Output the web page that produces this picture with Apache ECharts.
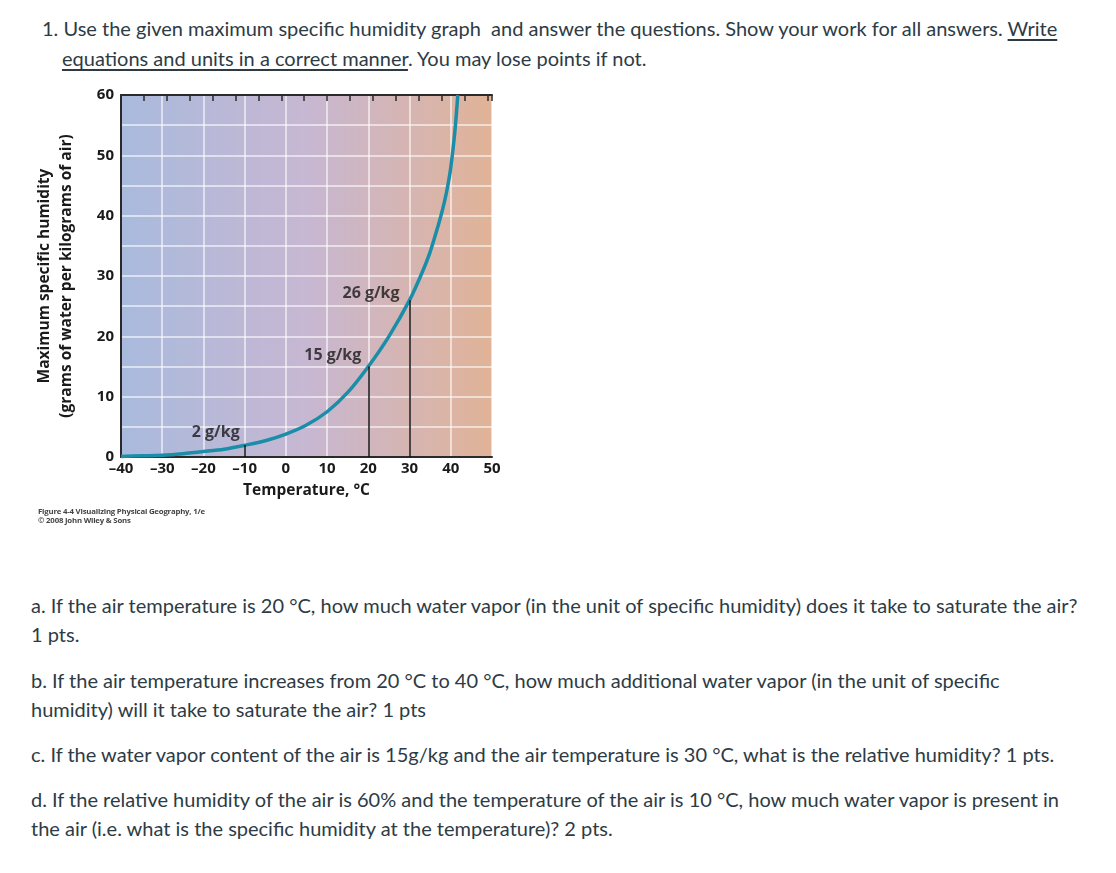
<!DOCTYPE html>
<html>
<head>
<meta charset="utf-8">
<script src="https://cdn.jsdelivr.net/npm/echarts@6/dist/echarts.min.js"></script>
<style>
  html, body { margin:0; padding:0; background:#fff; width:1116px; height:873px; overflow:hidden; }
  body { font-family: Lato, "Open Sans", sans-serif; color:#2d3b45; font-size:20px; }
  .t { position:absolute; white-space:nowrap; line-height:29px; }
  u { text-decoration: underline; text-underline-offset: 3px; }
  #chart { position:absolute; left:0; top:0; width:560px; height:560px; }
  .cap { position:absolute; left:38px; font-family:"Open Sans", sans-serif; font-size:7.8px; font-weight:700; color:#444; line-height:8.5px; white-space:nowrap; letter-spacing:-0.2px; filter: blur(0.35px); }
</style>
</head>
<body>
<div class="t" style="left:42px; top:14px;">1. Use the given maximum specific humidity graph&nbsp; and answer the questions. Show your work for all answers. <u>Write</u></div>
<div class="t" style="left:62px; top:44px;"><u>equations and units in a correct manner</u>. You may lose points if not.</div>
<div id="chart"></div>
<div class="cap" style="top:507px;">Figure 4-4 Visualizing Physical Geography, 1/e<br>© 2008 John Wiley &amp; Sons</div>
<div class="t" style="left:31px; top:591px;">a. If the air temperature is 20 °C, how much water vapor (in the unit of specific humidity) does it take to saturate the air?</div>
<div class="t" style="left:31px; top:620px;">1 pts.</div>
<div class="t" style="left:31px; top:666px;">b. If the air temperature increases from 20 °C to 40 °C, how much additional water vapor (in the unit of specific</div>
<div class="t" style="left:31px; top:695px;">humidity) will it take to saturate the air? 1 pts</div>
<div class="t" style="left:31px; top:740px;">c. If the water vapor content of the air is 15g/kg and the air temperature is 30 °C, what is the relative humidity? 1 pts.</div>
<div class="t" style="left:31px; top:785px;">d. If the relative humidity of the air is 60% and the temperature of the air is 10 °C, how much water vapor is present in</div>
<div class="t" style="left:31px; top:814px;">the air (i.e. what is the specific humidity at the temperature)? 2 pts.</div>
<script>
// ---- data ----
const temps = [-40,-35,-30,-25,-20,-15,-10,-5,0,5,10,15,20,25,30,33,35,37,38,39,40,41,41.7];
const humidity = [0.1,0.2,0.3,0.55,0.9,1.3,1.95,2.7,3.8,5.3,7.5,10.7,15,20,26,30.5,34,38.5,41,44,48,54,60];
const markTemps = [-10, 20, 30];
const markValues = [2, 15, 26];
const markLabels = ['2 g/kg', '15 g/kg', '26 g/kg'];
const xTickLabels = [-40,-30,-20,-10,0,10,20,30,40,50];
const yTickLabels = [0,10,20,30,40,50,60];
const fahrenheitTicksMin = -40, fahrenheitTicksMax = 122;

// label offsets (style, px)
const labelOffsets = [[-5,-12],[-7,-11],[-10,-7]];

const chart = echarts.init(document.getElementById('chart'));
const fontF = '"Open Sans", sans-serif';
const gradient = new echarts.graphic.LinearGradient(0,0,1,0,[
  {offset:0, color:'#a9badd'},
  {offset:0.5, color:'#c7b7d2'},
  {offset:1, color:'#e1b397'}
]);
chart.setOption({
  animation:false,
  grid:{ left:121, top:95, width:371, height:362, show:true, backgroundColor:gradient, borderWidth:0 },
  xAxis:[{
    type:'value', min:-40, max:50, interval:10, position:'bottom',
    axisLine:{ show:true, onZero:false, lineStyle:{ color:'#2a2a2a', width:2 } },
    axisTick:{ show:false },
    splitLine:{ show:true, lineStyle:{ color:'rgba(255,255,255,0.75)', width:1.5 } },
    axisLabel:{ margin:4, color:'#1a1a1a', fontFamily:fontF, fontWeight:700, fontSize:15,
      formatter:v => xTickLabels.includes(v) ? String(v).replace('-', '\u2013') : '' },
    name:'Temperature, \u00B0C', nameLocation:'middle', nameGap:26,
    nameTextStyle:{ color:'#1a1a1a', fontFamily:fontF, fontWeight:700, fontSize:15.5 }
  },{
    type:'value', min:fahrenheitTicksMin, max:fahrenheitTicksMax, interval:10, position:'top',
    axisLine:{ show:true, onZero:false, lineStyle:{ color:'#2a2a2a', width:2 } },
    axisTick:{ show:true, inside:true, length:6, lineStyle:{ color:'#2a2a2a', width:1.5 } },
    axisLabel:{ show:false }, splitLine:{ show:false }
  }],
  yAxis:{
    type:'value', min:0, max:60, interval:5,
    axisLine:{ show:true, onZero:false, lineStyle:{ color:'#2a2a2a', width:2 } },
    axisTick:{ show:false },
    splitLine:{ show:true, lineStyle:{ color:'rgba(255,255,255,0.75)', width:1.5 } },
    axisLabel:{ margin:7, color:'#1a1a1a', fontFamily:fontF, fontWeight:700, fontSize:15,
      formatter:v => yTickLabels.includes(v) ? String(v) : '' },
    name:'Maximum specific humidity\n(grams of water per kilograms of air)',
    nameLocation:'middle', nameGap:43, nameRotate:90,
    nameTextStyle:{ color:'#1a1a1a', fontFamily:fontF, fontWeight:700, fontSize:15.5, lineHeight:22 }
  },
  series:[{
    type:'line', xAxisIndex:0, data: temps.map((t,i)=>[t, humidity[i]]),
    smooth:0.3, showSymbol:false, clip:true,
    lineStyle:{ color:'#1a8da8', width:3.5 },
    markLine:{
      silent:true, symbol:['none','none'], label:{ show:false },
      lineStyle:{ color:'#111', width:1.5, type:'solid' },
      data: markTemps.map((t,i)=>[{coord:[t,0]},{coord:[t,markValues[i]]}])
    },
    z:3
  },{
    type:'scatter', xAxisIndex:0, symbolSize:0,
    data: markTemps.map((t,i)=>({ value:[t, markValues[i]], name:markLabels[i],
      label:{ position:labelOffsets[i] } })),
    label:{ show:true, align:'right', verticalAlign:'middle',
      formatter:p => p.name, color:'#1a1a1a', fontFamily:fontF, fontWeight:700, fontSize:16 },
    z:4
  }]
});
</script>
</body>
</html>
